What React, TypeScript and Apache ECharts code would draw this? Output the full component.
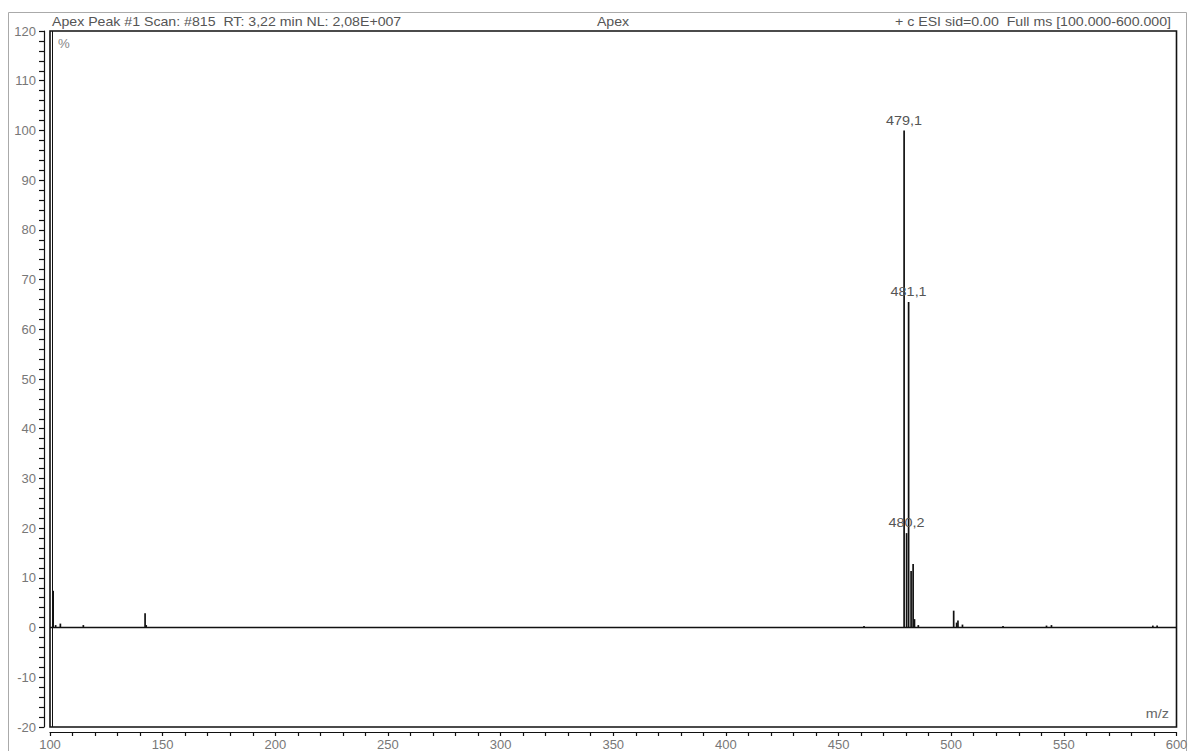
import React, { useEffect, useRef } from "react";
import * as echarts from "echarts";

// ---- data ----
const peakMz = [101.4, 102.5, 104.6, 114.8, 142.2, 142.7, 461.3, 479.1, 480.2, 481.1, 482.2, 483.1, 483.7, 485.4, 501.1, 502.4, 503.0, 505.0, 523.0, 542.3, 544.5, 589.5, 591.4];
const peakIntensity = [7.4, 0.5, 0.8, 0.5, 2.9, 0.5, 0.3, 100, 19, 65.5, 11.4, 12.8, 1.7, 0.5, 3.4, 1.0, 1.4, 0.6, 0.3, 0.4, 0.5, 0.4, 0.4];
const labelMz = [479.1, 481.1, 480.2];
const labelIntensity = [100, 65.5, 19];
const labelText = ["479,1", "481,1", "480,2"];
const baselineMz = [100, 600];
const baselineIntensity = [0, 0];
const xMin = 100, xMax = 600, xInterval = 50;
const yMin = -20, yMax = 120, yInterval = 10;
const headerLeft = "Apex Peak #1 Scan: #815  RT: 3,22 min NL: 2,08E+007";
const headerCenter = "Apex";
const headerRight = "+ c ESI sid=0.00  Full ms [100.000-600.000]";
const yUnit = "%";
const xUnit = "m/z";

const FONT = "'Liberation Sans', Arial, sans-serif";

export default function App() {
  const ref = useRef<HTMLDivElement>(null);
  useEffect(() => {
    if (!ref.current) return;
    const chart = echarts.init(ref.current, undefined, { renderer: "svg" });
    const txt = (text: string, x: number, y: number, align: string, sx = 1.18, size = 12, color = "#555") => ({
      type: "text",
      x,
      y,
      scaleX: sx,
      silent: true,
      style: { text, font: `${size}px ${FONT}`, fill: color, textAlign: align, textVerticalAlign: "middle" },
    });
    chart.setOption({
      animation: false,
      backgroundColor: "#fff",
      grid: { left: 50, right: 15.5, top: 31, bottom: 24, show: true, borderColor: "#111", borderWidth: 1.6, backgroundColor: "transparent" },
      xAxis: {
        type: "value",
        min: xMin,
        max: xMax,
        interval: xInterval,
        offset: 5,
        axisLine: { show: true, onZero: false, lineStyle: { color: "#111", width: 1.2 } },
        axisTick: { show: true, length: 4, lineStyle: { color: "#111", width: 1.2 } },
        minorTick: { show: true, splitNumber: 5, length: 4, lineStyle: { color: "#111", width: 1.2 } },
        splitLine: { show: false },
        axisLabel: { color: "#777", fontSize: 13, fontFamily: FONT, margin: 6 },
      },
      yAxis: {
        type: "value",
        min: yMin,
        max: yMax,
        interval: yInterval,
        offset: 6,
        axisLine: { show: true, lineStyle: { color: "#111", width: 1.2 } },
        axisTick: { show: true, length: 5, lineStyle: { color: "#111", width: 1.2 } },
        minorTick: { show: true, splitNumber: 5, length: 5, lineStyle: { color: "#111", width: 1.2 } },
        splitLine: { show: false },
        axisLabel: { color: "#777", fontSize: 13, fontFamily: FONT, margin: 8 },
      },
      series: [
        {
          type: "line",
          data: baselineMz.map((m, i) => [m, baselineIntensity[i]]),
          symbol: "none",
          lineStyle: { color: "#111", width: 1.6 },
          silent: true,
        },
        {
          type: "custom",
          data: peakMz.map((m, i) => [m, peakIntensity[i]]),
          silent: true,
          renderItem: (params: any, api: any) => {
            const x = api.value(0);
            const y = api.value(1);
            const p0 = api.coord([x, 0]);
            const p1 = api.coord([x, y]);
            return {
              type: "line",
              shape: { x1: p0[0], y1: p0[1], x2: p1[0], y2: p1[1] },
              style: { stroke: "#111", lineWidth: 1.7 },
            };
          },
        },
        {
          type: "custom",
          data: labelMz.map((m, i) => [m, labelIntensity[i]]),
          silent: true,
          renderItem: (params: any, api: any) => {
            const p = api.coord([api.value(0), api.value(1)]);
            return {
              type: "text",
              x: p[0],
              y: p[1] - 10,
              scaleX: 1.2,
              style: { text: labelText[params.dataIndex], font: `12px ${FONT}`, fill: "#555", textAlign: "center", textVerticalAlign: "middle" },
            };
          },
        },
      ],
      graphic: [
        { type: "rect", silent: true, shape: { x: 8.5, y: 12.5, width: 1178, height: 760 }, style: { fill: "none", stroke: "#aaa", lineWidth: 1 } },
        { type: "line", silent: true, shape: { x1: 52.5, y1: 31, x2: 52.5, y2: 727 }, style: { stroke: "#111", lineWidth: 1 } },
        txt(headerLeft, 52, 21.5, "left"),
        txt(headerCenter, 613, 21.5, "center"),
        txt(headerRight, 1171, 21.5, "right"),
        txt(yUnit, 58, 44, "left", 1.1, 12, "#888"),
        txt(xUnit, 1169, 714, "right", 1.2, 12, "#666"),
      ],
    });
    return () => chart.dispose();
  }, []);
  return <div ref={ref} style={{ position: "absolute", left: 0, top: 0, width: 1192, height: 751 }} />;
}
